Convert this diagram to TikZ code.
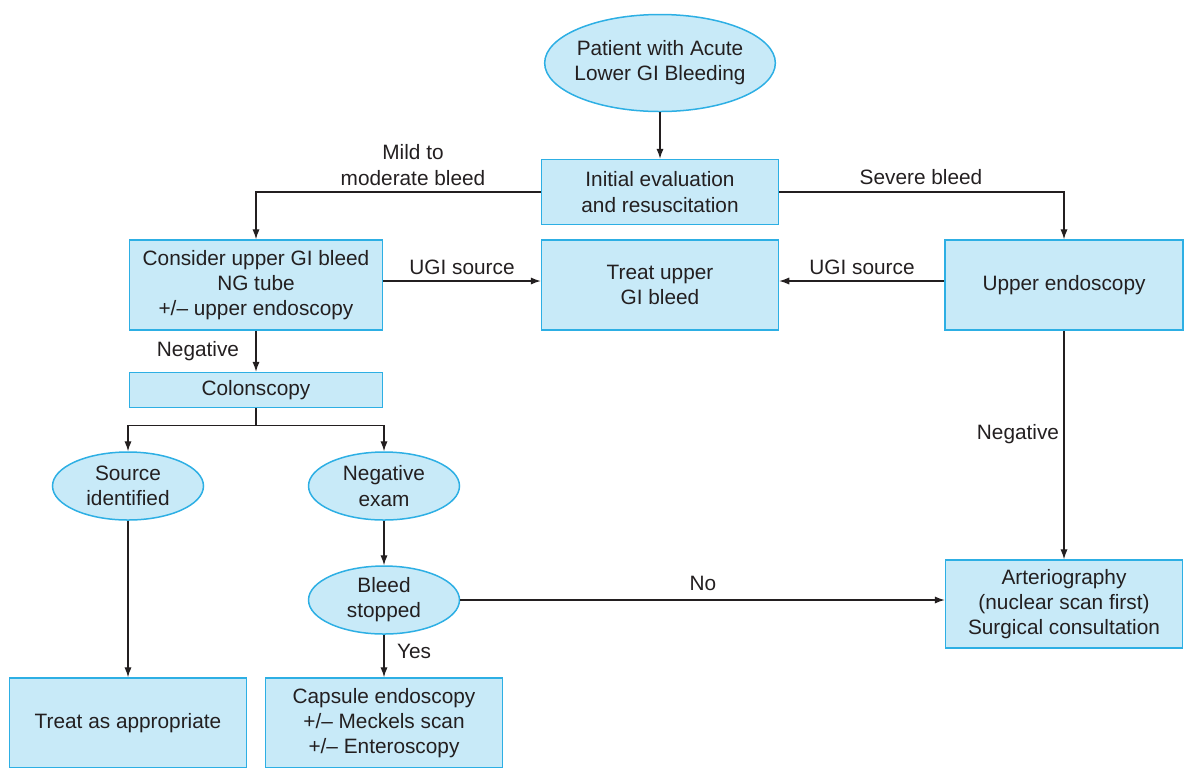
\documentclass[tikz,border=0pt]{standalone}
\usepackage{fontspec}
\setmainfont{Liberation Sans}
\usetikzlibrary{arrows.meta,positioning,shapes.geometric}
\definecolor{boxFill}{RGB}{200,234,248}
\definecolor{boxLine}{RGB}{45,175,228}
\definecolor{inkDark}{RGB}{35,31,32}

\begin{document}
\begin{tikzpicture}[x=0.5pt, y=-0.5pt,
    every node/.style={font=\fontsize{10.4}{12.6}\selectfont, text=inkDark},
    box/.style={draw=boxLine, fill=boxFill, line width=0.75pt, align=center, inner sep=0pt},
    oval/.style={box, ellipse, inner xsep=-2pt},
    flow/.style={-{Latex[length=5pt, width=3.6pt]}, draw=inkDark, line width=0.6pt},
    tag/.style={align=center}]
    % frame
    \clip (0,0) rectangle (1186,767);
    % top of the chart
    \node[oval, minimum width=115pt, minimum height=48.5pt] (patient) at (660,63) {Patient with Acute\\Lower GI Bleeding};
    \node[box, minimum width=118.5pt, minimum height=32.5pt] (initial) at (660,192) {Initial evaluation\\and resuscitation};
    % second row
    \node[box, minimum width=126.5pt, minimum height=45pt] (consider) at (256,285) {Consider upper GI bleed\\NG tube\\+/– upper endoscopy};
    \node[box, minimum width=118.5pt, minimum height=45pt] (treatugi) at (660,285) {Treat upper\\GI bleed};
    \node[box, minimum width=119pt, minimum height=45pt] (upperendo) at (1064,285) {Upper endoscopy};
    % lower left branch
    \node[box, minimum width=126.5pt, minimum height=17.5pt] (colon) at (256,390) {Colonscopy};
    \node[oval, minimum width=75.5pt, minimum height=34pt] (source) at (128,486) {Source\\identified};
    \node[oval, minimum width=75.5pt, minimum height=34pt] (negexam) at (384,486) {Negative\\exam};
    \node[oval, minimum width=75.5pt, minimum height=34pt] (stopped) at (384,600) {Bleed\\stopped};
    \node[box, minimum width=118.5pt, minimum height=45pt] (treatapp) at (128,723) {Treat as appropriate};
    \node[box, minimum width=118.5pt, minimum height=45pt] (capsule) at (384,723) {Capsule endoscopy\\+/– Meckels scan\\+/– Enteroscopy};
    % right branch
    \node[box, minimum width=118.5pt, minimum height=44pt] (arterio) at (1064,604) {Arteriography\\(nuclear scan first)\\Surgical consultation};
    % connectors
    \draw[flow] (patient) -- (initial);
    \draw[flow] (initial.west) -| (consider.north);
    \draw[flow] (initial.east) -| (upperendo.north);
    \draw[flow] ([yshift=2pt]consider.east) -- ([yshift=2pt]treatugi.west);
    \draw[flow] ([yshift=2pt]upperendo.west) -- ([yshift=2pt]treatugi.east);
    \draw[flow] (consider) -- (colon);
    \draw[draw=inkDark, line width=0.6pt] (colon.south) -- ++(0,17) coordinate (split);
    \draw[flow] (split) -| (source.north);
    \draw[flow] (split) -| (negexam.north);
    \draw[flow] (source) -- (treatapp);
    \draw[flow] (negexam) -- (stopped);
    \draw[flow] (stopped) -- (capsule);
    \draw[flow] (stopped.east) -- (stopped.east -| arterio.west);
    \draw[flow] (upperendo) -- (arterio);
    % labels on the connectors
    \node[tag] (mildlbl) at (413,165) {Mild to\\moderate bleed};
    \node[tag] (severelbl) at (921,177) {Severe bleed};
    \node[tag] (ugileft) at (462,267) {UGI source};
    \node[tag] (ugiright) at (862,267) {UGI source};
    \node[tag] (neglbl) at (198,351) {Negative};
    \node[tag] (yeslbl) at (414,651) {Yes};
    \node[tag] (nolbl) at (703,583) {No};
    \node[tag] (negright) at (1018,434) {Negative};
\end{tikzpicture}
\end{document}
